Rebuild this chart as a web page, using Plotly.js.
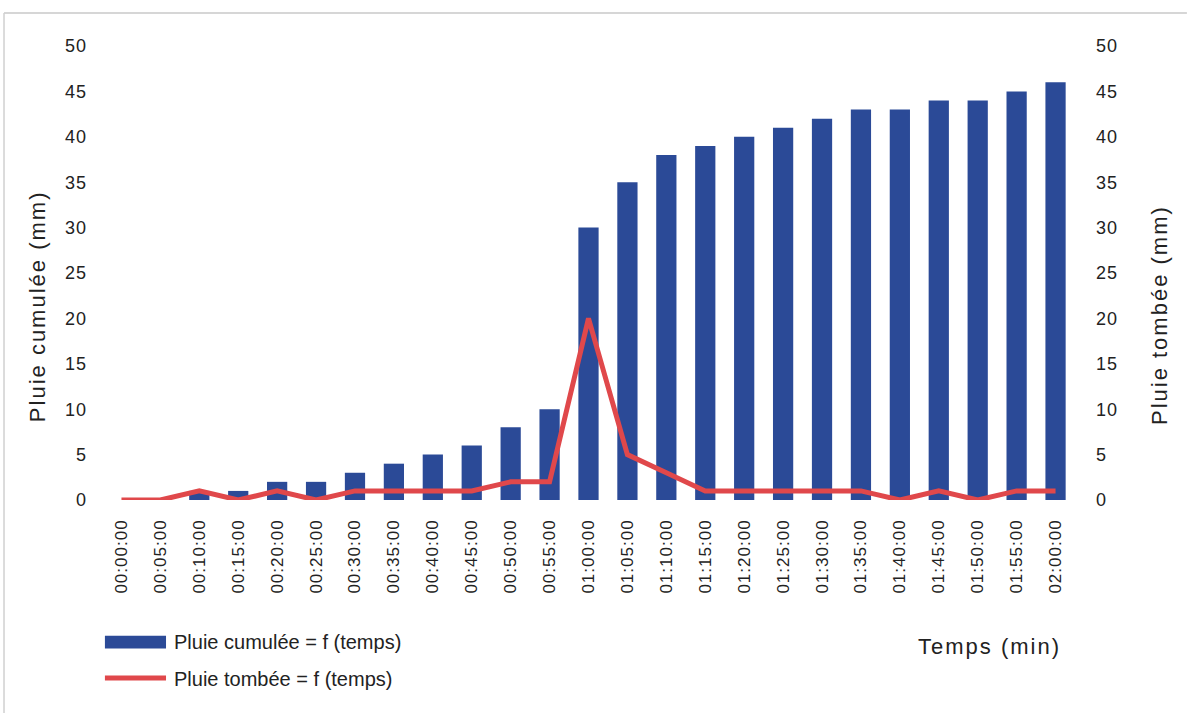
<!DOCTYPE html>
<html>
<head>
<meta charset="utf-8">
<script src="https://cdn.plot.ly/plotly-3.0.1.min.js"></script>
<style>
  html, body { margin: 0; padding: 0; background: #ffffff; }
  #chart { width: 1189px; height: 713px; }
  /* slightly airy lettering on the tick labels */
  #chart .xtick text { letter-spacing: 1px; }
  #chart .ytick text, #chart .y2tick text { letter-spacing: 1px; }
</style>
</head>
<body>
<div id="chart"></div>
<script>
// Time steps (every 5 minutes)
const temps = [
  "00:00:00", "00:05:00", "00:10:00", "00:15:00", "00:20:00", "00:25:00",
  "00:30:00", "00:35:00", "00:40:00", "00:45:00", "00:50:00", "00:55:00",
  "01:00:00", "01:05:00", "01:10:00", "01:15:00", "01:20:00", "01:25:00",
  "01:30:00", "01:35:00", "01:40:00", "01:45:00", "01:50:00", "01:55:00",
  "02:00:00"
];

// Cumulative rainfall (mm)
const pluieCumulee = [
  0, 0, 1, 1, 2, 2, 3, 4, 5, 6, 8, 10,
  30, 35, 38, 39, 40, 41, 42, 43, 43, 44, 44, 45, 46
];

// Rainfall per interval (mm)
const pluieTombee = [
  0, 0, 1, 0, 1, 0, 1, 1, 1, 1, 2, 2,
  20, 5, 3, 1, 1, 1, 1, 1, 0, 1, 0, 1, 1
];

const legendLabels = ["Pluie cumulée = f (temps)", "Pluie tombée = f (temps)"];
const axisTitles = ["Pluie cumulée (mm)", "Pluie tombée (mm)", "Temps (min)"];

const BLUE = "#2b4a97";
const RED = "#e0484b";
const FONT = "Liberation Sans, Arial, sans-serif";
const TEXT = "#222222";

const traces = [
  {
    type: "bar",
    x: temps,
    y: pluieCumulee,
    name: legendLabels[0],
    marker: { color: BLUE },
    yaxis: "y",
    showlegend: false
  },
  {
    type: "scatter",
    mode: "lines",
    x: temps,
    y: pluieTombee,
    name: legendLabels[1],
    line: { color: RED, width: 5 },
    yaxis: "y2",
    showlegend: false
  }
];

const layout = {
  width: 1189,
  height: 713,
  margin: { l: 102, r: 114, t: 46, b: 213 },
  paper_bgcolor: "#ffffff",
  plot_bgcolor: "#ffffff",
  bargap: 0.48,
  font: { family: FONT, color: TEXT, size: 16 },
  xaxis: {
    type: "category",
    tickangle: -90,
    showgrid: false,
    showline: false,
    zeroline: false,
    ticks: "",
    ticklabelstandoff: 15,
    tickfont: { size: 17, family: FONT, color: TEXT }
  },
  yaxis: {
    range: [0, 50],
    dtick: 5,
    showgrid: false,
    zeroline: false,
    showline: false,
    ticks: "",
    ticklabelstandoff: 14,
    tickfont: { size: 18, family: FONT, color: TEXT }
  },
  yaxis2: {
    range: [0, 50],
    dtick: 5,
    overlaying: "y",
    side: "right",
    showgrid: false,
    zeroline: false,
    showline: false,
    ticks: "",
    ticklabelstandoff: 20,
    tickfont: { size: 18, family: FONT, color: TEXT }
  },
  shapes: [
    // page frame (top and left edges)
    { type: "line", xref: "paper", yref: "paper", x0: -0.1007, x1: 1.115, y0: 1.0727, y1: 1.0727,
      line: { color: "#c8c8c8", width: 1.5 } },
    { type: "line", xref: "paper", yref: "paper", x0: -0.1007, x1: -0.1007, y0: 1.0727, y1: -0.47,
      line: { color: "#d0d0d0", width: 1.5 } },
    // legend symbols
    { type: "rect", xref: "paper", yref: "paper", x0: 0.003, x1: 0.0658, y0: -0.327, y1: -0.299,
      fillcolor: BLUE, line: { width: 0 } },
    { type: "line", xref: "paper", yref: "paper", x0: 0.003, x1: 0.0658, y0: -0.392, y1: -0.392,
      line: { color: RED, width: 5 } }
  ],
  annotations: [
    // legend labels
    { xref: "paper", yref: "paper", x: 0.072, y: -0.313, xanchor: "left", yanchor: "middle",
      text: legendLabels[0], showarrow: false, font: { size: 20, family: FONT, color: TEXT } },
    { xref: "paper", yref: "paper", x: 0.072, y: -0.394, xanchor: "left", yanchor: "middle",
      text: legendLabels[1], showarrow: false, font: { size: 20, family: FONT, color: TEXT } },
    // axis captions
    { xref: "paper", yref: "paper", x: -0.0668, y: 0.427, xanchor: "center", yanchor: "middle",
      textangle: -90, text: axisTitles[0], showarrow: false,
      font: { size: 22, family: FONT, color: TEXT } },
    { xref: "paper", yref: "paper", x: 1.0874, y: 0.4075, xanchor: "center", yanchor: "middle",
      textangle: -90, text: axisTitles[1], showarrow: false,
      font: { size: 22, family: FONT, color: TEXT } },
    { xref: "paper", yref: "paper", x: 0.9126, y: -0.322, xanchor: "center", yanchor: "middle",
      text: axisTitles[2], showarrow: false, font: { size: 22, family: FONT, color: TEXT } }
  ]
};

Plotly.newPlot("chart", traces, layout, { displayModeBar: false, staticPlot: true }).then(function (gd) {
  // wider spacing for the centred axis captions
  const notes = gd.querySelectorAll(".annotation-text");
  for (let i = 2; i < notes.length; i++) notes[i].style.letterSpacing = "2px";
});
</script>
</body>
</html>
